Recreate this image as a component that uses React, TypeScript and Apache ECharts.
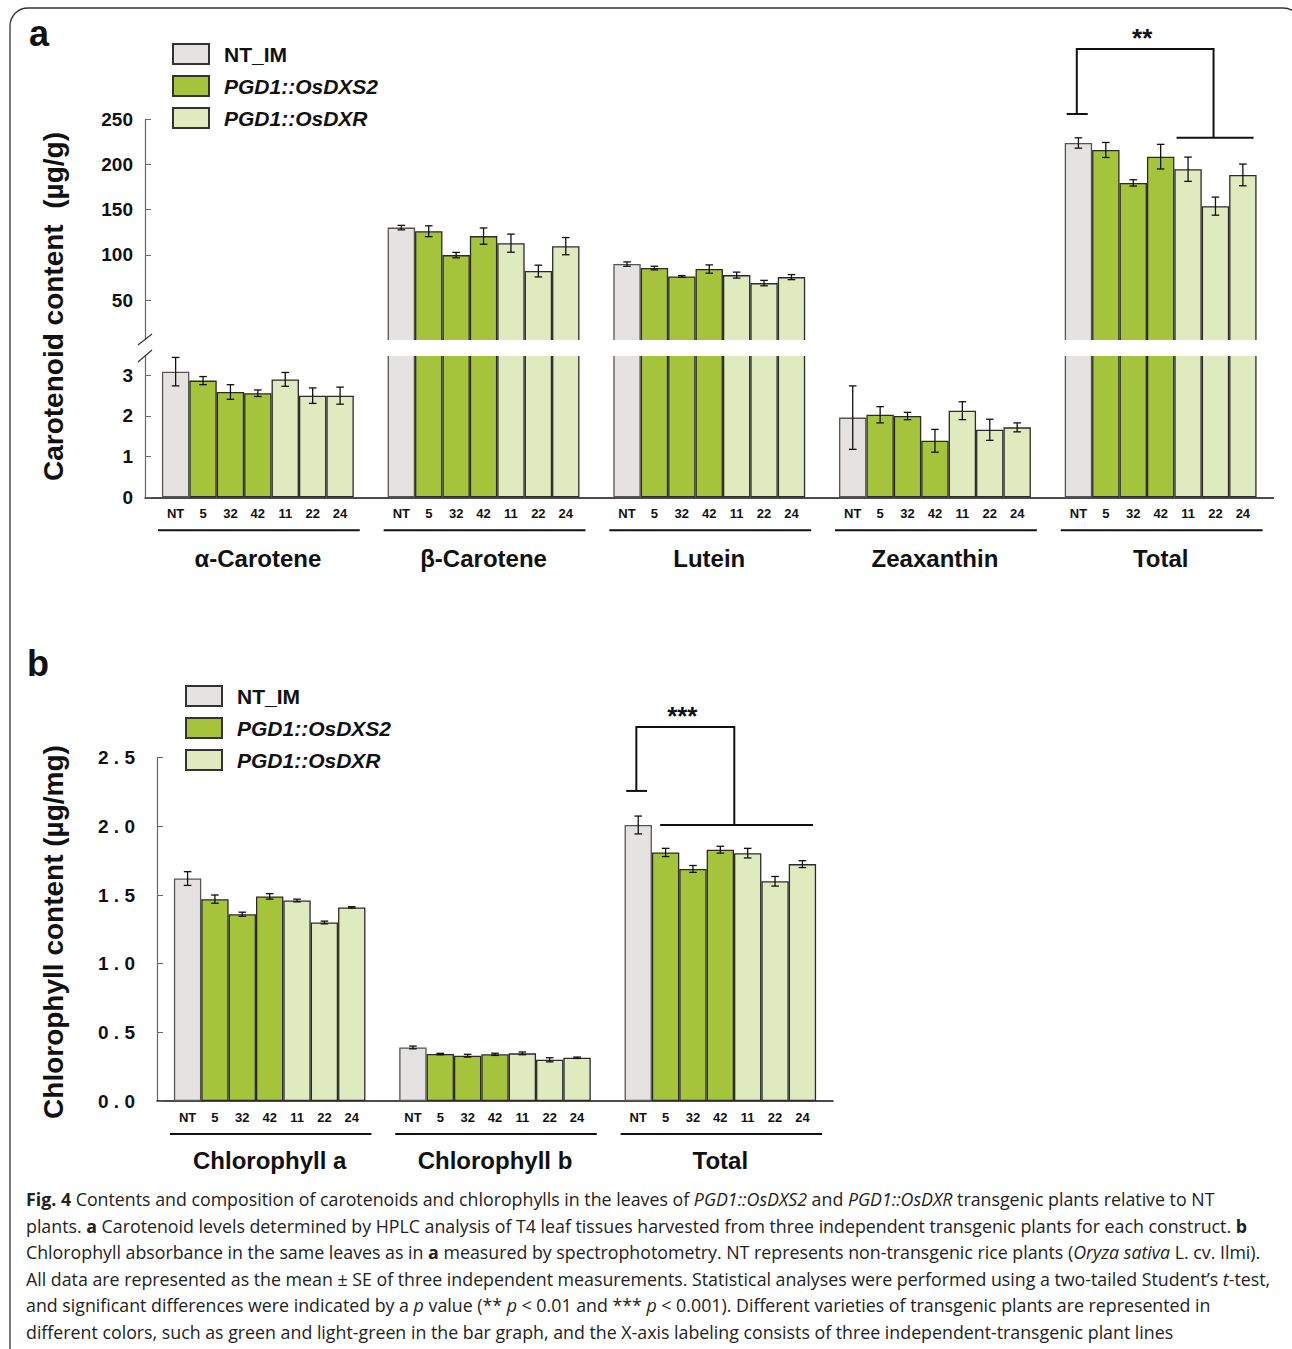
import React, { useEffect, useRef } from 'react';
import * as echarts from 'echarts';

// ---------- data ----------
const lineNames = ['NT', '5', '32', '42', '11', '22', '24'];
const lineGroup = [0, 1, 1, 1, 2, 2, 2]; // 0 = NT_IM, 1 = PGD1::OsDXS2, 2 = PGD1::OsDXR
const legendNames = ['NT_IM', 'PGD1::OsDXS2', 'PGD1::OsDXR'];

const carotenoidCats = ['α-Carotene', 'β-Carotene', 'Lutein', 'Zeaxanthin', 'Total'];
const alphaCarotene = [3.09, 2.87, 2.59, 2.56, 2.9, 2.5, 2.5];
const alphaCaroteneSE = [0.35, 0.1, 0.18, 0.08, 0.17, 0.19, 0.21];
const betaCarotene = [130, 126, 99.6, 120.6, 112.8, 82, 109.5];
const betaCaroteneSE = [2.5, 6, 3, 9, 10, 6.5, 9.5];
const lutein = [89.7, 85.3, 76, 84.2, 77.5, 68.7, 75.3];
const luteinSE = [2.4, 2, 1, 4.6, 3.3, 3, 2.8];
const zeaxanthin = [1.96, 2.03, 2.0, 1.39, 2.13, 1.66, 1.72];
const zeaxanthinSE = [0.78, 0.2, 0.09, 0.28, 0.22, 0.26, 0.11];
const totalCarotenoid = [223.5, 215.8, 179.4, 208.4, 194.5, 153.7, 188.2];
const totalCarotenoidSE = [5.7, 8.3, 3.5, 13.6, 13.4, 10, 12];

const chlCats = ['Chlorophyll a', 'Chlorophyll b', 'Total'];
const chlA = [1.62, 1.47, 1.36, 1.49, 1.46, 1.3, 1.41];
const chlASE = [0.05, 0.03, 0.015, 0.02, 0.01, 0.01, 0.005];
const chlB = [0.39, 0.342, 0.33, 0.34, 0.347, 0.3, 0.315];
const chlBSE = [0.01, 0.005, 0.01, 0.008, 0.01, 0.015, 0.005];
const chlTotal = [2.01, 1.81, 1.69, 1.83, 1.805, 1.6, 1.725];
const chlTotalSE = [0.065, 0.03, 0.025, 0.025, 0.035, 0.035, 0.025];

const carUpperTicks = [50, 100, 150, 200, 250];
const carLowerTicks = [0, 1, 2, 3];
const chlTicks = [0, 0.5, 1, 1.5, 2, 2.5];

// significance brackets: [group index, NT level, top level, comparison level]
const sigA = [4, 255.5, 327.4, 229.3];
const sigB = [2, 2.258, 2.724, 2.009];
const sigALabel = '**';
const sigBLabel = '***';

// ---------- styles ----------
const FONT = '"Liberation Sans", Arial, Helvetica, sans-serif';
const CAP_FONT = '"Open Sans", Roboto, "Noto Sans", sans-serif';
const FILLS = ['#e4e3e1', '#a6c43b', '#dfeabf'];
const BORDER = '#2b2b2b';
const CAT_GAP = 0.15;
const N_BARS = 7;
const LOWER_MAX = 3.5;

// bracket x positions, in bar-width units from the group's first bar edge
const sigAx = { nt: [0.07, 0.84], left: 0.44, right: 5.43, comp: [4.08, 6.89] };
const sigBx = { nt: [0.06, 0.82], left: 0.43, right: 4.01, comp: [1.3, 6.89] };

const compA = [alphaCarotene, betaCarotene, lutein, zeaxanthin, totalCarotenoid];
const compASE = [alphaCaroteneSE, betaCaroteneSE, luteinSE, zeaxanthinSE, totalCarotenoidSE];
const compB = [chlA, chlB, chlTotal];
const compBSE = [chlASE, chlBSE, chlTotalSE];

function barSeries(axisIdx: number, comps: number[][], withLabel: boolean) {
  return lineNames.map((nm, i) => ({
    type: 'bar',
    name: nm,
    xAxisIndex: axisIdx,
    yAxisIndex: axisIdx,
    data: comps.map((c) => c[i]),
    barGap: '0%',
    barCategoryGap: '15%',
    clip: true,
    silent: true,
    z: 2,
    itemStyle: { color: FILLS[lineGroup[i]], borderColor: i === 0 ? '#555' : BORDER, borderWidth: 1.3 },
    label: withLabel
      ? {
          show: true,
          position: 'bottom',
          distance: 10,
          formatter: () => nm,
          fontFamily: FONT,
          fontWeight: 'bold',
          fontSize: 13,
          color: '#111',
        }
      : { show: false },
  }));
}

function errData(comps: number[][], ses: number[][], keep: (v: number) => boolean) {
  const out: number[][] = [];
  comps.forEach((c, g) =>
    c.forEach((v, i) => {
      if (keep(v)) out.push([g, i, v, ses[g][i]]);
    })
  );
  return out;
}

function barMetrics(api: any, g: number) {
  const c = api.coord([g, 0]);
  const band = api.size([1, 0])[0];
  const bw = (band * (1 - CAT_GAP)) / N_BARS;
  const start = c[0] - (N_BARS / 2) * bw;
  return { c, bw, start };
}

function errRender(params: any, api: any) {
  const g = api.value(0);
  const li = api.value(1);
  const v = api.value(2);
  const se = api.value(3);
  const { bw, start } = barMetrics(api, g);
  const x = start + (li + 0.5) * bw;
  const yt = api.coord([g, v + se])[1];
  const yb = api.coord([g, v - se])[1];
  const st = { stroke: '#111', lineWidth: 1.3 };
  const hw = 3.8;
  return {
    type: 'group',
    children: [
      { type: 'line', shape: { x1: x, y1: yt, x2: x, y2: yb }, style: st },
      { type: 'line', shape: { x1: x - hw, y1: yt, x2: x + hw, y2: yt }, style: st },
      { type: 'line', shape: { x1: x - hw, y1: yb, x2: x + hw, y2: yb }, style: st },
    ],
  };
}

function underlineRender(params: any, api: any) {
  const g = api.value(0);
  const { c, bw, start } = barMetrics(api, g);
  const y = c[1] + 33;
  return {
    type: 'line',
    shape: { x1: start - 4, y1: y, x2: start + N_BARS * bw + 6, y2: y },
    style: { stroke: '#111', lineWidth: 2 },
  };
}

function bracketRender(pos: any, label: string) {
  return (params: any, api: any) => {
    const g = api.value(0);
    const { bw, start } = barMetrics(api, g);
    const X = (p: number) => start + p * bw;
    const ntY = api.coord([g, api.value(1)])[1];
    const topY = api.coord([g, api.value(2)])[1];
    const compY = api.coord([g, api.value(3)])[1];
    const st = { stroke: '#111', lineWidth: 2, fill: 'none' };
    return {
      type: 'group',
      children: [
        { type: 'line', shape: { x1: X(pos.nt[0]), y1: ntY, x2: X(pos.nt[1]), y2: ntY }, style: st },
        {
          type: 'polyline',
          shape: {
            points: [
              [X(pos.left), ntY],
              [X(pos.left), topY],
              [X(pos.right), topY],
              [X(pos.right), compY],
            ],
          },
          style: st,
        },
        { type: 'line', shape: { x1: X(pos.comp[0]), y1: compY, x2: X(pos.comp[1]), y2: compY }, style: st },
        {
          type: 'text',
          style: {
            text: label,
            x: (X(pos.left) + X(pos.right)) / 2 - 3,
            y: topY + 2.5,
            textAlign: 'center',
            textVerticalAlign: 'bottom',
            fontFamily: FONT,
            fontWeight: 'bold',
            fontSize: 26,
            fill: '#111',
          },
        },
      ],
    };
  };
}

const yLabel = (margin: number, fmt?: (v: number) => string) => ({
  fontFamily: FONT,
  fontWeight: 'bold',
  fontSize: 19,
  color: '#111',
  margin,
  formatter: fmt,
});

const capLines = [
  '{b|Fig. 4} Contents and composition of carotenoids and chlorophylls in the leaves of {i|PGD1::OsDXS2} and {i|PGD1::OsDXR} transgenic plants relative to NT',
  'plants. {b|a} Carotenoid levels determined by HPLC analysis of T4 leaf tissues harvested from three independent transgenic plants for each construct. {b|b}',
  'Chlorophyll absorbance in the same leaves as in {b|a} measured by spectrophotometry. NT represents non-transgenic rice plants ({i|Oryza sativa} L. cv. Ilmi).',
  'All data are represented as the mean ± SE of three independent measurements. Statistical analyses were performed using a two-tailed Student’s {i|t}-test,',
  'and significant differences were indicated by a {i|p} value (** {i|p} < 0.01 and *** {i|p} < 0.001). Different varieties of transgenic plants are represented in',
  'different colors, such as green and light-green in the bar graph, and the X-axis labeling consists of three independent-transgenic plant lines',
];

export default function App() {
  const ref = useRef<HTMLDivElement>(null);
  useEffect(() => {
    if (!ref.current) return;
    const chart = echarts.init(ref.current, undefined, { renderer: 'svg' });
    const capSize = 17.8;
    const capRich = {
      b: { fontFamily: CAP_FONT, fontSize: capSize, fontWeight: 'bold', fill: '#222', color: '#222' },
      i: { fontFamily: CAP_FONT, fontSize: capSize, fontStyle: 'italic', fill: '#222', color: '#222' },
    };
    const legendCommon = {
      data: legendNames,
      orient: 'vertical',
      padding: 0,
      itemWidth: 36,
      itemHeight: 20,
      itemGap: 10,
      icon: 'rect',
      selectedMode: false,
      formatter: (n: string) => (n === 'NT_IM' ? n : `{i|${n}}`),
      textStyle: {
        fontFamily: FONT,
        fontWeight: 'bold',
        fontSize: 21,
        color: '#111',
        padding: [0, 0, 0, 10],
        rich: { i: { fontFamily: FONT, fontWeight: 'bold', fontStyle: 'italic', fontSize: 21, color: '#111' } },
      },
    };
    const gridW = 1128.5;
    const option: any = {
      animation: false,
      backgroundColor: '#fff',
      grid: [
        { left: 145, top: 119, width: gridW, height: 226.25 },
        { left: 145, top: 355, width: gridW, height: 142.3 },
        { left: 157, top: 757.7, width: 676, height: 343.3 },
        { left: 0, top: 0, width: 1, height: 1, show: false },
      ],
      xAxis: [
        { gridIndex: 0, type: 'category', data: carotenoidCats, show: false },
        {
          gridIndex: 1,
          type: 'category',
          data: carotenoidCats,
          axisLine: { lineStyle: { color: '#111', width: 1.5 } },
          axisTick: { show: false },
          axisLabel: { fontFamily: FONT, fontWeight: 'bold', fontSize: 24, color: '#111', margin: 49 },
        },
        {
          gridIndex: 2,
          type: 'category',
          data: chlCats,
          axisLine: { lineStyle: { color: '#111', width: 1.5 } },
          axisTick: { show: false },
          axisLabel: { fontFamily: FONT, fontWeight: 'bold', fontSize: 24, color: '#111', margin: 47 },
        },
        { gridIndex: 3, type: 'category', data: ['x'], show: false },
      ],
      yAxis: [
        {
          gridIndex: 0,
          type: 'value',
          min: 0,
          max: 250,
          splitLine: { show: false },
          axisLine: { show: true, lineStyle: { color: '#666', width: 1.2 } },
          axisTick: { show: true, inside: true, length: 6, customValues: carUpperTicks, lineStyle: { color: '#666' } },
          axisLabel: { ...yLabel(12), customValues: carUpperTicks },
        },
        {
          gridIndex: 1,
          type: 'value',
          min: 0,
          max: LOWER_MAX,
          splitLine: { show: false },
          axisLine: { show: true, lineStyle: { color: '#666', width: 1.2 } },
          axisTick: { show: true, inside: true, length: 6, customValues: carLowerTicks, lineStyle: { color: '#666' } },
          axisLabel: { ...yLabel(12), customValues: carLowerTicks },
        },
        {
          gridIndex: 2,
          type: 'value',
          min: 0,
          max: 2.5,
          splitLine: { show: false },
          axisLine: { show: true, lineStyle: { color: '#666', width: 1.2 } },
          axisTick: { show: true, inside: true, length: 6, customValues: chlTicks, lineStyle: { color: '#666' } },
          axisLabel: {
            ...yLabel(22, (v: number) => v.toFixed(1).split('').join(' ')),
            customValues: chlTicks,
          },
        },
        { gridIndex: 3, type: 'value', show: false },
      ],
      legend: [
        { ...legendCommon, left: 172, top: 43 },
        { ...legendCommon, left: 185, top: 685 },
      ],
      series: [
        ...barSeries(0, compA, false),
        ...barSeries(1, compA, true),
        ...barSeries(2, compB, true),
        ...legendNames.map((n, k) => ({
          type: 'bar',
          name: n,
          xAxisIndex: 3,
          yAxisIndex: 3,
          data: [],
          itemStyle: { color: FILLS[k], borderColor: '#333', borderWidth: 1.2 },
        })),
        {
          type: 'custom',
          xAxisIndex: 0,
          yAxisIndex: 0,
          data: errData(compA, compASE, (v) => v > LOWER_MAX),
          encode: { x: 0, y: 2 },
          renderItem: errRender,
          z: 5,
          silent: true,
          clip: false,
        },
        {
          type: 'custom',
          xAxisIndex: 1,
          yAxisIndex: 1,
          data: errData(compA, compASE, (v) => v <= LOWER_MAX),
          encode: { x: 0, y: 2 },
          renderItem: errRender,
          z: 5,
          silent: true,
          clip: false,
        },
        {
          type: 'custom',
          xAxisIndex: 2,
          yAxisIndex: 2,
          data: errData(compB, compBSE, () => true),
          encode: { x: 0, y: 2 },
          renderItem: errRender,
          z: 5,
          silent: true,
          clip: false,
        },
        {
          type: 'custom',
          xAxisIndex: 1,
          yAxisIndex: 1,
          data: carotenoidCats.map((_, i) => [i, 0]),
          encode: { x: 0, y: 1 },
          renderItem: underlineRender,
          silent: true,
          clip: false,
        },
        {
          type: 'custom',
          xAxisIndex: 2,
          yAxisIndex: 2,
          data: chlCats.map((_, i) => [i, 0]),
          encode: { x: 0, y: 1 },
          renderItem: underlineRender,
          silent: true,
          clip: false,
        },
        {
          type: 'custom',
          xAxisIndex: 0,
          yAxisIndex: 0,
          data: [sigA],
          encode: { x: 0, y: 1 },
          renderItem: bracketRender(sigAx, sigALabel),
          silent: true,
          clip: false,
          z: 6,
        },
        {
          type: 'custom',
          xAxisIndex: 2,
          yAxisIndex: 2,
          data: [sigB],
          encode: { x: 0, y: 1 },
          renderItem: bracketRender(sigBx, sigBLabel),
          silent: true,
          clip: false,
          z: 6,
        },
      ],
      graphic: {
        elements: [
          {
            type: 'rect',
            shape: { x: 10, y: 8, width: 1291, height: 1420, r: 18 },
            style: { fill: 'transparent', stroke: '#333', lineWidth: 1.3 },
            silent: true,
            z: 0,
          },
          {
            type: 'rect',
            shape: { x: 138, y: 340, width: 1142, height: 16 },
            style: { fill: '#ffffff' },
            silent: true,
            z: 100,
          },
          {
            type: 'line',
            shape: { x1: 138, y1: 345, x2: 152, y2: 334 },
            style: { stroke: '#333', lineWidth: 1.2 },
            silent: true,
            z: 101,
          },
          {
            type: 'line',
            shape: { x1: 138, y1: 362, x2: 152, y2: 350 },
            style: { stroke: '#333', lineWidth: 1.2 },
            silent: true,
            z: 101,
          },
          {
            type: 'text',
            x: 29,
            y: 33,
            style: { text: 'a', fontFamily: FONT, fontWeight: 'bold', fontSize: 36, fill: '#111', textVerticalAlign: 'middle' },
            z: 101,
          },
          {
            type: 'text',
            x: 27,
            y: 663,
            style: { text: 'b', fontFamily: FONT, fontWeight: 'bold', fontSize: 36, fill: '#111', textVerticalAlign: 'middle' },
            z: 101,
          },
          {
            type: 'text',
            x: 53,
            y: 306.5,
            rotation: Math.PI / 2,
            style: {
              text: 'Carotenoid content  (µg/g)',
              fontFamily: FONT,
              fontWeight: 'bold',
              fontSize: 28,
              fill: '#111',
              textAlign: 'center',
              textVerticalAlign: 'middle',
            },
            z: 101,
          },
          {
            type: 'text',
            x: 53,
            y: 932,
            rotation: Math.PI / 2,
            style: {
              text: 'Chlorophyll content (µg/mg)',
              fontFamily: FONT,
              fontWeight: 'bold',
              fontSize: 28,
              fill: '#111',
              textAlign: 'center',
              textVerticalAlign: 'middle',
            },
            z: 101,
          },
          ...capLines.map((t, k) => ({
            type: 'text',
            x: 26,
            y: 1199 + k * 26.6,
            style: {
              text: t,
              rich: capRich,
              fontFamily: CAP_FONT,
              fontSize: capSize,
              fill: '#222',
              textVerticalAlign: 'middle',
            },
            z: 101,
          })),
        ],
      },
    };
    chart.setOption(option);
    return () => chart.dispose();
  }, []);
  return (
    <div
      ref={ref}
      style={{ position: 'absolute', left: 0, top: 0, width: 1292, height: 1349, background: '#fff' }}
    />
  );
}
